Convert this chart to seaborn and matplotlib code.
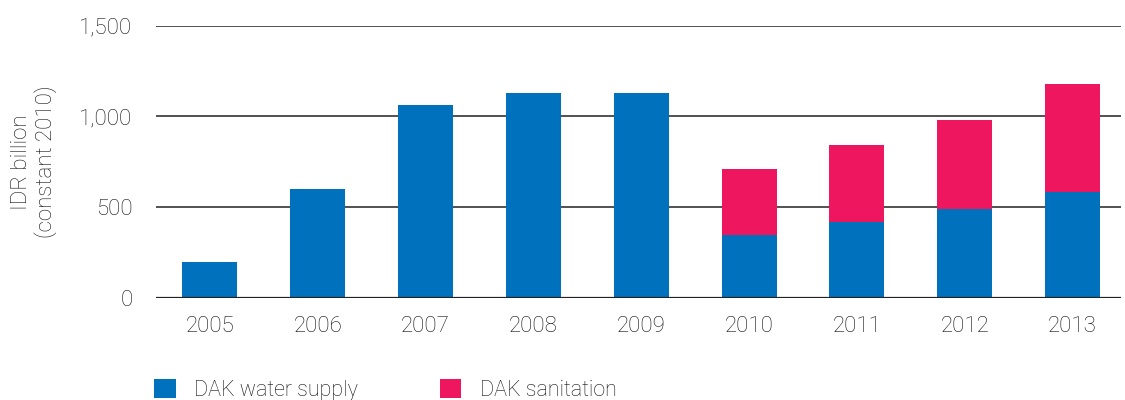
import matplotlib
matplotlib.use("Agg")
import matplotlib.pyplot as plt
from matplotlib.patches import Patch
import numpy as np
import pandas as pd
import seaborn as sns

years = ["2005", "2006", "2007", "2008", "2009", "2010", "2011", "2012", "2013"]
water_supply = [200, 600, 1062, 1128, 1128, 347, 420, 490, 585]
sanitation = [0, 0, 0, 0, 0, 363, 422, 490, 593]
y_ticks = [0, 500, 1000, 1500]

blue = "#0071BC"
pink = "#ED165F"
text_color = "#111111"

sns.set_theme(style="white")
plt.rcParams["font.family"] = ["Roboto", "DejaVu Sans"]
plt.rcParams["font.weight"] = "light"

df = pd.DataFrame({
    "year": years,
    "water": water_supply,
    "total": np.array(water_supply) + np.array(sanitation),
})

fig = plt.figure(figsize=(11.25, 4), dpi=100)
ax = fig.add_axes([0.1387, 0.255, 0.8578, 0.681])

sns.barplot(data=df, x="year", y="total", color=pink, saturation=1,
            width=0.51, ax=ax, linewidth=0)
sns.barplot(data=df, x="year", y="water", color=blue, saturation=1,
            width=0.51, ax=ax, linewidth=0)

ax.set_ylim(0, 1500)
ax.set_xlim(-0.5, 8.45)
ax.set_yticks(y_ticks)
ax.set_yticklabels([f"{v:,}" for v in y_ticks])
for v in y_ticks:
    ax.axhline(v, color="#222222", lw=1.1 if v else 1.6, zorder=0.5 if v else 3)

for s in ax.spines.values():
    s.set_visible(False)
ax.tick_params(axis="both", length=0, labelsize=16, colors=text_color)
ax.tick_params(axis="y", pad=17)
ax.tick_params(axis="x", pad=13)
for lbl in ax.get_xticklabels() + ax.get_yticklabels():
    lbl.set_fontweight("light")
ax.set_xlabel("")
ax.set_ylabel("IDR billion\n(constant 2010)", fontsize=16, color=text_color,
              fontweight="light", labelpad=16, linespacing=1.1)

handles = [Patch(facecolor=blue, edgecolor="none", label="DAK water supply"),
           Patch(facecolor=pink, edgecolor="none", label="DAK sanitation")]
leg = fig.legend(handles=handles, loc="lower left", bbox_to_anchor=(0.12, -0.05),
                 ncol=2, frameon=False, fontsize=15.5, handlelength=1.0,
                 handleheight=1.0, handletextpad=0.85, columnspacing=3.8,
                 labelcolor=text_color)
for t in leg.get_texts():
    t.set_fontweight("light")

fig.savefig("out.png", dpi=100)
